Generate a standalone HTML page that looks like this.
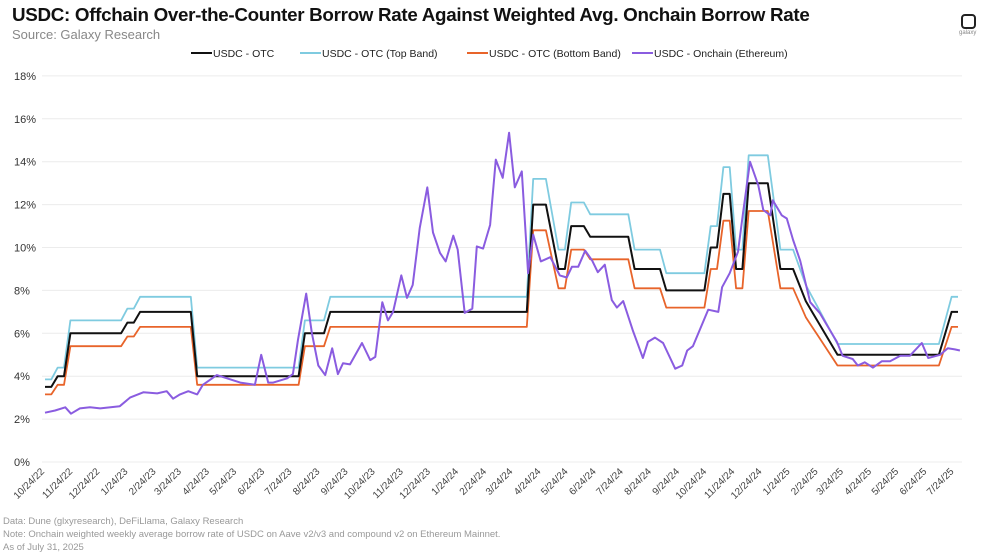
<!DOCTYPE html>
<html><head><meta charset="utf-8"><style>
body{margin:0;width:990px;height:559px;background:#fff;font-family:"Liberation Sans",sans-serif;overflow:hidden;position:relative}
.t{position:absolute;white-space:nowrap}
</style></head><body>
<div class="t" style="left:12px;top:4px;font-size:18.8px;font-weight:bold;color:#111;letter-spacing:-0.3px">USDC: Offchain Over-the-Counter Borrow Rate Against Weighted Avg. Onchain Borrow Rate</div>
<div class="t" style="left:12px;top:27px;font-size:13px;color:#888">Source: Galaxy Research</div>
<div style="position:absolute;left:961px;top:14px;width:11px;height:11px;border:2px solid #222;border-radius:4px"></div>
<div class="t" style="left:959px;top:30px;font-size:6px;color:#888">galaxy</div>
<svg id="chart" width="990" height="559" style="position:absolute;left:0;top:0"></svg>
<div class="t" style="left:3px;top:516px;font-size:9.5px;color:#999">Data: Dune (glxyresearch), DeFiLlama, Galaxy Research</div>
<div class="t" style="left:3px;top:529px;font-size:9.5px;color:#999">Note: Onchain weighted weekly average borrow rate of USDC on Aave v2/v3 and compound v2 on Ethereum Mainnet.</div>
<div class="t" style="left:3px;top:542px;font-size:9.5px;color:#999">As of July 31, 2025</div>
<script>
const yTicks=[0,2,4,6,8,10,12,14,16,18];
const xTickLabels=["10/24/22","11/24/22","12/24/22","1/24/23","2/24/23","3/24/23","4/24/23","5/24/23","6/24/23","7/24/23","8/24/23","9/24/23","10/24/23","11/24/23","12/24/23","1/24/24","2/24/24","3/24/24","4/24/24","5/24/24","6/24/24","7/24/24","8/24/24","9/24/24","10/24/24","11/24/24","12/24/24","1/24/25","2/24/25","3/24/25","4/24/25","5/24/25","6/24/25","7/24/25"];
const seriesNames=["USDC - OTC","USDC - OTC (Top Band)","USDC - OTC (Bottom Band)","USDC - Onchain (Ethereum)"];
const otcWeeks=[0,1,2,3,4,12,13,14,15,23,24,40,41,44,45,76,77,79,81,82,83,85,86,92,93,97,98,104,105,106,107,108,109,110,111,114,116,118,120,121,122,125,141,143,144];
const otcValues=[3.5,3.5,4,4,6,6,6.5,6.5,7,7,4,4,6,6,7,7,12,12,9,9,11,11,10.5,10.5,9,9,8,8,10,10,12.5,12.5,9,9,13,13,9,9,7.5,7,6.5,5,5,7,7];
const topValues=[3.85,3.85,4.4,4.4,6.6,6.6,7.15,7.15,7.7,7.7,4.4,4.4,6.6,6.6,7.7,7.7,13.2,13.2,9.9,9.9,12.1,12.1,11.55,11.55,9.9,9.9,8.8,8.8,11,11,13.75,13.75,9.9,9.9,14.3,14.3,9.9,9.9,8.25,7.7,7.15,5.5,5.5,7.7,7.7];
const bottomValues=[3.15,3.15,3.6,3.6,5.4,5.4,5.85,5.85,6.3,6.3,3.6,3.6,5.4,5.4,6.3,6.3,10.8,10.8,8.1,8.1,9.9,9.9,9.45,9.45,8.1,8.1,7.2,7.2,9,9,11.25,11.25,8.1,8.1,11.7,11.7,8.1,8.1,6.75,6.3,5.85,4.5,4.5,6.3,6.3];
const onWeeks=[0,1.6,3.2,4.1,5.5,7.1,8.7,11.8,13.4,15.5,17.7,19.2,20.2,21.3,22.6,24,24.9,27.1,28.7,30.8,33.1,34.1,35.2,36,38.2,39.1,39.9,41.2,42.1,43.1,44.2,45.3,46.2,47,48.1,50,51.3,52.1,53.2,54.1,54.9,56.2,57.1,58,59.1,60.3,61.2,62.3,63.2,64.4,65.1,66.2,67.4,68.1,69.1,70.2,71.1,72.2,73.2,74.1,75.2,76.2,77,78.2,79.7,81.2,82.3,83.1,84.1,85.2,86.3,87.2,88.3,89.4,90.2,91.2,92.7,94.3,95.1,96.2,97.5,99.4,100.5,101.3,102.2,104.6,106.2,106.8,108,109.3,110.1,111.2,112.5,113.3,114.4,114.8,116.2,117,118,119.1,120.7,122.2,123.5,124.9,125.8,127.4,128.2,129.3,130.6,132,133.3,134.9,136.4,138.3,139.3,141.2,142.4,143.5,144.3];
const onValues=[2.3,2.4,2.55,2.25,2.5,2.55,2.5,2.6,3,3.25,3.2,3.3,2.95,3.15,3.3,3.15,3.6,4.05,3.9,3.7,3.6,5,3.7,3.7,3.9,4.1,5.7,7.85,6,4.5,4.05,5.3,4.1,4.6,4.55,5.55,4.75,4.9,7.45,6.6,7,8.7,7.65,8.25,10.9,12.8,10.7,9.75,9.35,10.55,9.9,6.95,7.15,10.05,9.95,11.05,14.1,13.25,15.35,12.8,13.55,8.8,10.6,9.35,9.55,8.7,8.6,9.1,9.1,9.85,9.4,8.85,9.2,7.55,7.2,7.5,6.15,4.85,5.6,5.8,5.55,4.35,4.5,5.2,5.4,7.1,7,8.15,8.8,9.8,11.6,14,12.9,11.75,11.5,12.2,11.5,11.35,10.35,9.4,7.45,6.95,6.3,5.6,4.95,4.8,4.5,4.65,4.4,4.7,4.7,4.95,4.95,5.55,4.85,5,5.3,5.25,5.2];

const svg=document.getElementById('chart');
const NS='http://www.w3.org/2000/svg';
const X0=45,PXW=6.34,Y0=462,PXV=21.45;
const xs=w=>X0+w*PXW, ys=v=>Y0-v*PXV;
function mk(tag,attrs){const e=document.createElementNS(NS,tag);for(const k in attrs)e.setAttribute(k,attrs[k]);svg.appendChild(e);return e;}
yTicks.forEach(v=>{
  const g=mk('line',{x1:42,x2:962,y1:ys(v),y2:ys(v),stroke:'#ececec','stroke-width':1});
  
  
  const t=mk('text',{x:14,y:ys(v)+4,'font-size':11,fill:'#333','font-family':'Liberation Sans, sans-serif'});
  t.textContent=v+'%';
  
  
});
const base=new Date(2022,9,24);
xTickLabels.forEach(s=>{
  const p=s.split('/');const d=new Date(2000+ +p[2],+p[0]-1,+p[1]);
  const w=(d-base)/(7*864e5);const x=xs(w);
  const t=mk('text',{x:x,y:472,'font-size':10,fill:'#444','text-anchor':'end','font-family':'Liberation Sans, sans-serif',transform:`rotate(-45 ${x} 472)`});
  t.textContent=s;
  
  
});
function line(ws,vs,color,name,wd){
  const d=ws.map((w,i)=>(i?'L':'M')+xs(w).toFixed(1)+','+ys(vs[i]).toFixed(1)).join('');
  const p=mk('path',{d:d,fill:'none',stroke:color,'stroke-width':wd,'stroke-linejoin':'round'});
  
  
}
line(otcWeeks,topValues,'#7fcbe0','otc-top-band-line',1.8);
line(otcWeeks,bottomValues,'#e8642a','otc-bottom-band-line',1.8);
line(otcWeeks,otcValues,'#111','otc-line',2);
line(onWeeks,onValues,'#8a5ce0','onchain-line',2);
const colors=['#111','#7fcbe0','#e8642a','#8a5ce0'];
const lx=[191,300,467,632];
seriesNames.forEach((n,i)=>{
  const l=mk('line',{x1:lx[i],x2:lx[i]+21,y1:53,y2:53,stroke:colors[i],'stroke-width':2});
  
  
  const t=mk('text',{x:lx[i]+22,y:57,'font-size':10.5,fill:'#222','font-family':'Liberation Sans, sans-serif'});
  t.textContent=n;
  
  
});
</script>
</body></html>
